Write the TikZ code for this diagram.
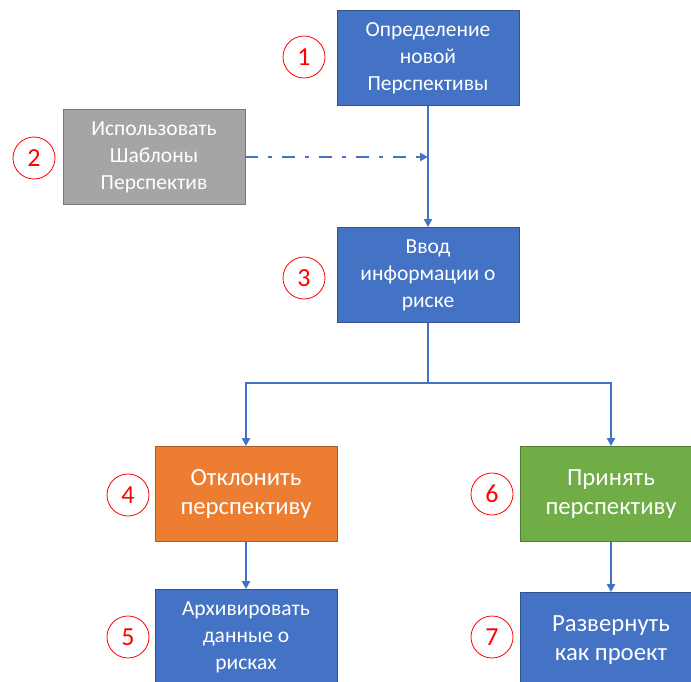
\documentclass[tikz,border=0pt]{standalone}
\usepackage{fontspec}
\setmainfont{Carlito}
\usetikzlibrary{arrows.meta, positioning}

\definecolor{flowblue}{HTML}{4472C4}
\definecolor{flowgray}{HTML}{A5A5A5}
\definecolor{floworange}{HTML}{ED7D31}
\definecolor{flowgreen}{HTML}{70AD47}

\begin{document}
\begin{tikzpicture}[x=1pt, y=-1pt,
    box/.style={draw=#1!72!black, fill=#1, line width=0.8pt, minimum width=182pt,
        minimum height=95pt, align=center, text=white,
        font=\fontsize{21.5}{27}\selectfont},
    bigbox/.style={box=#1, font=\fontsize{24.7}{29.5}\selectfont},
    num/.style={circle, draw=red, line width=0.8pt, minimum size=42pt, inner sep=0pt,
        text=red, font=\fontsize{26}{26}\selectfont},
    flow/.style={draw=flowblue, line width=2pt, -{Triangle[length=8pt, width=8pt]}}]
    % Page frame
    \clip (0,0) rectangle (691,682);

    % Steps
    \node[box=flowblue] (define) at (428,58) {Определение\\новой\\Перспективы};
    \node[box=flowgray] (templates) at (154,157) {Использовать\\Шаблоны\\Перспектив};
    \node[box=flowblue] (input) at (428,275) {Ввод\\информации о\\риске};
    \node[bigbox=floworange] (reject) at (246,494) {Отклонить\\перспективу};
    \node[box=flowblue] (archive) at (246,637) {Архивировать\\данные о\\рисках};
    \node[bigbox=flowgreen] (accept) at (611,494) {Принять\\перспективу};
    \node[bigbox=flowblue] (deploy) at (611,640) {Развернуть\\как проект};

    % Step numbers
    \node[num] (n1) at (304,57) {1};
    \node[num] (n2) at (34,158) {2};
    \node[num] (n3) at (304,278) {3};
    \node[num] (n4) at (128,495) {4};
    \node[num] (n5) at (128,637) {5};
    \node[num] (n6) at (492,494) {6};
    \node[num] (n7) at (492,637) {7};

    % Connectors
    \coordinate (merge) at (define.south |- templates.east);
    \coordinate (split) at (428,383);
    \draw[flow] (define) -- (input);
    \draw[flow, line width=2.5pt, dash pattern=on 13pt off 10pt on 4pt off 10pt]
        (templates) -- (merge);
    \draw[flow, -] (input) -- (split);
    \draw[flow] (split) -| (reject);
    \draw[flow] (split) -| (accept);
    \draw[flow] (reject) -- (archive);
    \draw[flow] (accept) -- (deploy);
\end{tikzpicture}
\end{document}
